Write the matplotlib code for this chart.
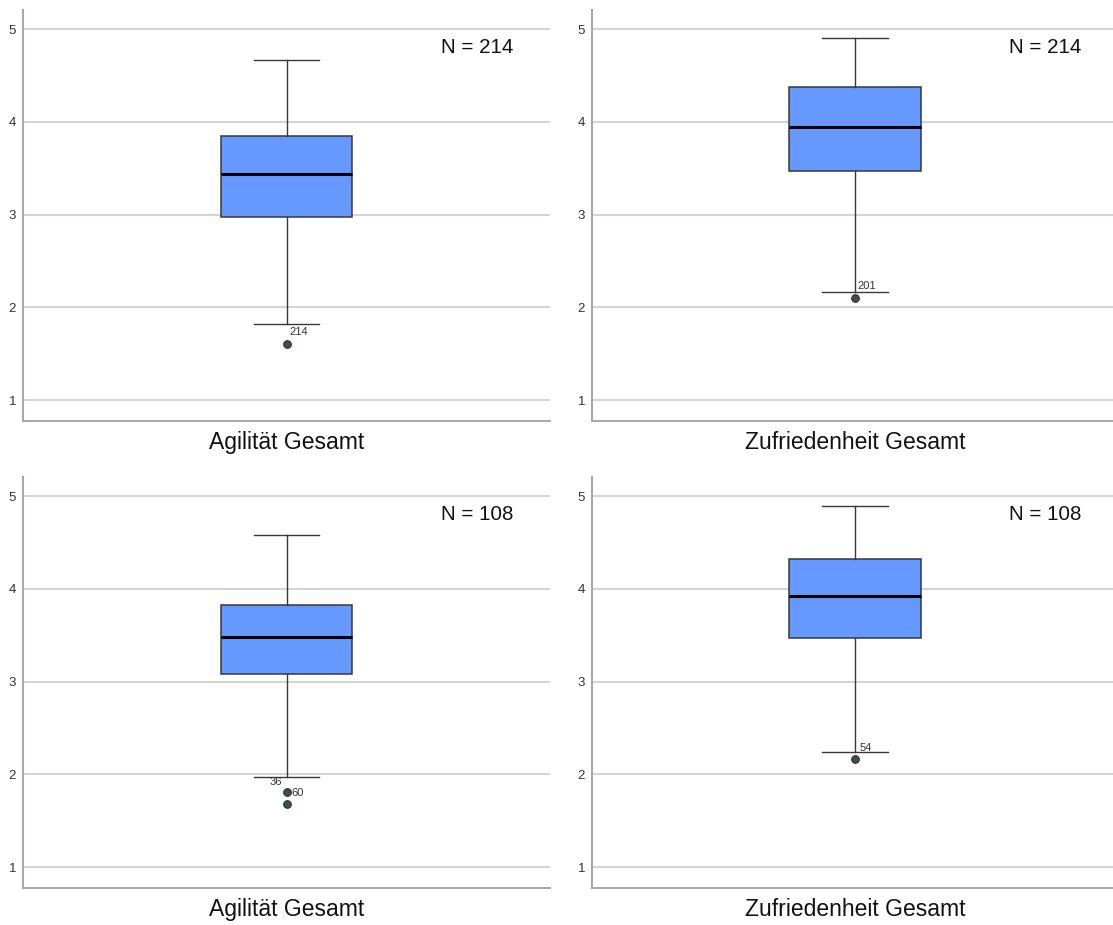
import matplotlib
matplotlib.use('Agg')
import matplotlib.pyplot as plt
from matplotlib.transforms import blended_transform_factory

plt.rcParams['font.family'] = ['Liberation Sans', 'DejaVu Sans']

# five-number summaries per panel (SPSS style boxplots)
labels   = ['Agilität Gesamt', 'Zufriedenheit Gesamt', 'Agilität Gesamt', 'Zufriedenheit Gesamt']
n_values = [214, 214, 108, 108]
whishi   = [4.67, 4.90, 4.58, 4.89]
q3       = [3.85, 4.37, 3.83, 4.32]
median   = [3.44, 3.94, 3.48, 3.92]
q1       = [2.97, 3.47, 3.08, 3.47]
whislo   = [1.82, 2.17, 1.97, 2.24]
fliers   = [[1.60], [2.10], [1.81, 1.68], [2.17]]
flier_ids = [['214'], ['201'], ['60', '36'], ['54']]
# label offsets (pixels) relative to each outlier point
flier_offsets = [[(3, 12, 'left')], [(2, 12, 'left')],
                 [(5, -1, 'left'), (-4, 22, 'right')], [(5, 11, 'left')]]

W, H = 1113, 925
fig = plt.figure(figsize=(W / 100, H / 100), dpi=100)

# axes rectangles in pixels: left, top, right, bottom
rects = [(23, 10, 550, 421), (592, 10, 1118, 421),
         (23, 477, 550, 888), (592, 477, 1118, 888)]

box_color = '#6699FF'
edge_color = '#383838'
grid_color = '#D4D4D4'
spine_color = '#A8A8A8'

for i, (l, t, r, b) in enumerate(rects):
    ax = fig.add_axes([l / W, 1 - b / H, (r - l) / W, (b - t) / H])
    stats = [dict(med=median[i], q1=q1[i], q3=q3[i],
                  whislo=whislo[i], whishi=whishi[i], fliers=fliers[i])]
    ax.bxp(stats, positions=[1], widths=0.25, capwidths=0.125,
           patch_artist=True, showfliers=True,
           boxprops=dict(facecolor=box_color, edgecolor=edge_color, linewidth=1.1),
           medianprops=dict(color='black', linewidth=2.2),
           whiskerprops=dict(color=edge_color, linewidth=1.0),
           capprops=dict(color=edge_color, linewidth=1.0),
           flierprops=dict(marker='o', markersize=5.5, markerfacecolor='#434B4B',
                           markeredgecolor='#2E3535', markeredgewidth=0.8))

    ax.set_xlim(0.5, 1.5)
    ax.set_ylim(0.775, 5.205)
    ax.set_yticks([1, 2, 3, 4, 5])
    ax.set_yticklabels(['1', '2', '3', '4', '5'])
    ax.set_xticks([1])
    ax.set_xticklabels([labels[i]], fontsize=16.5, color='#111111')
    ax.tick_params(axis='x', length=0, pad=7)
    ax.tick_params(axis='y', length=0, pad=5, labelsize=9.5, labelcolor='#333333')
    ax.yaxis.grid(True, color=grid_color, linewidth=1.5)
    ax.set_axisbelow(True)
    for side in ('top', 'right'):
        ax.spines[side].set_visible(False)
    for side in ('left', 'bottom'):
        ax.spines[side].set_color(spine_color)
        ax.spines[side].set_linewidth(1.5)

    # sample size in the upper right
    trans = blended_transform_factory(ax.transAxes, ax.transData)
    ax.text(0.93, 4.80, f'N = {n_values[i]}',
            transform=trans, ha='right', va='center', fontsize=14.8, color='#111111')

    # case numbers next to the outliers
    for val, cid, (dx, dy, ha) in zip(fliers[i], flier_ids[i], flier_offsets[i]):
        ax.annotate(cid, xy=(1, val), xytext=(dx * 0.72, dy * 0.72),
                    textcoords='offset points', ha=ha, va='center',
                    fontsize=8, color='#333333')

fig.savefig('out.png', dpi=100)
